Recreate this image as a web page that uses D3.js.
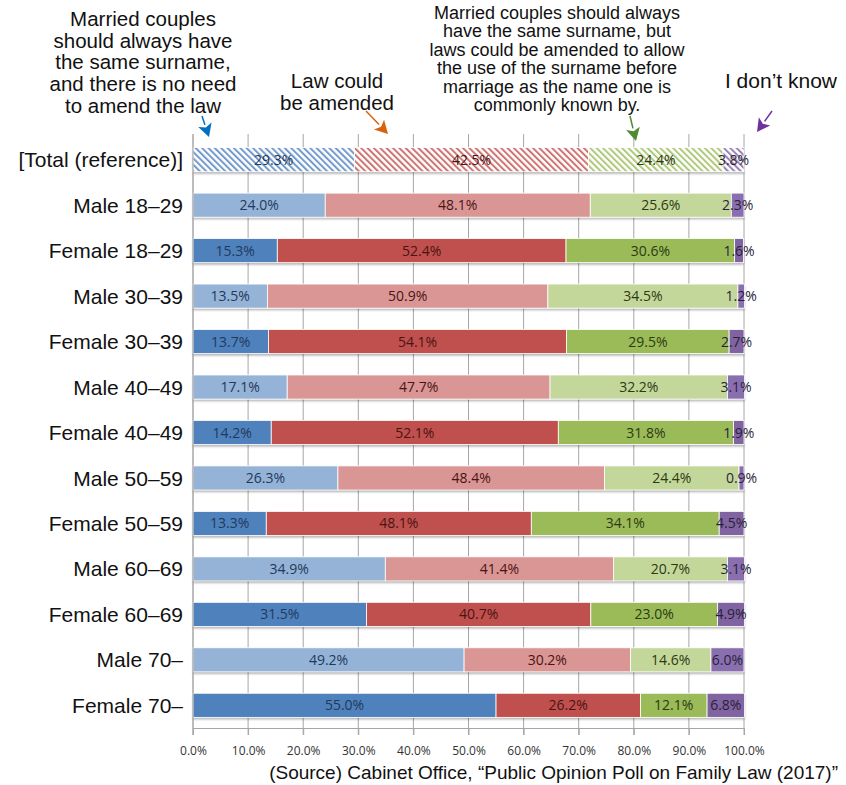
<!DOCTYPE html>
<html>
<head>
<meta charset="utf-8">
<script src="https://cdn.jsdelivr.net/npm/d3@7"></script>
<style>
  body { margin: 0; background: #fff; }
  svg { display: block; }
</style>
</head>
<body>
<script>
// categories (rows) and series values, percent
var groups = ["[Total (reference)]", "Male 18\u201329", "Female 18\u201329", "Male 30\u201339", "Female 30\u201339",
    "Male 40\u201349", "Female 40\u201349", "Male 50\u201359", "Female 50\u201359", "Male 60\u201369",
    "Female 60\u201369", "Male 70\u2013", "Female 70\u2013"];
var noNeed = [29.3, 24.0, 15.3, 13.5, 13.7, 17.1, 14.2, 26.3, 13.3, 34.9, 31.5, 49.2, 55.0];
var amend = [42.5, 48.1, 52.4, 50.9, 54.1, 47.7, 52.1, 48.4, 48.1, 41.4, 40.7, 30.2, 26.2];
var commonName = [24.4, 25.6, 30.6, 34.5, 29.5, 32.2, 31.8, 24.4, 34.1, 20.7, 23.0, 14.6, 12.1];
var dontKnow = [3.8, 2.3, 1.6, 1.2, 2.7, 3.1, 1.9, 0.9, 4.5, 3.1, 4.9, 6.0, 6.8];
var tickValues = [0, 10, 20, 30, 40, 50, 60, 70, 80, 90, 100];

var series = [noNeed, amend, commonName, dontKnow];
// female / male / total shades per series
var darkCol = ["#4f81bd", "#c0504d", "#9bbb59", "#8064a2"];
var lightCol = ["#95b3d7", "#da9694", "#c4d79b", "#8a6fb0"];
var textCol = ["#1f3a5c", "#4a1414", "#2c3a12", "#2a1f3a"];
var arrowCol = ["#0070c0", "#d9620f", "#4f8a2e", "#7030a0"];

var W = 846, H = 785;
var margin = { top: 134, left: 193, right: 102, bottom: 58 };

var svg = d3.select("body").append("svg")
    .attr("width", W)
    .attr("height", H);

var defs = svg.append("defs");
darkCol.forEach(function(c, i) {
    var p = defs.append("pattern")
        .attr("id", "hatch" + i)
        .attr("patternUnits", "userSpaceOnUse")
        .attr("width", 4.5).attr("height", 4.5)
        .attr("patternTransform", "rotate(-45)");
    p.append("rect").attr("width", 4.5).attr("height", 4.5).attr("fill", "#fff");
    p.append("rect").attr("width", 2).attr("height", 4.5).attr("fill", c).attr("opacity", 0.8);
});
var sh = defs.append("filter").attr("id", "shadow")
    .attr("x", "-5%").attr("y", "-20%").attr("width", "110%").attr("height", "160%");
sh.append("feDropShadow").attr("dx", 0).attr("dy", 2).attr("stdDeviation", 1.2)
    .attr("flood-color", "#000").attr("flood-opacity", 0.3);

var g = svg.append("g").attr("transform", "translate(" + margin.left + "," + margin.top + ")");

var x = d3.scaleLinear().domain([0, 100]).range([0, 551]);
var y = d3.scaleBand().domain(groups).range([0, 597]).paddingInner(0.47).paddingOuter(0.3);

// gridlines
g.append("g")
    .selectAll("line")
    .data(tickValues)
    .enter().append("line")
    .attr("x1", function(d) { return x(d); })
    .attr("x2", function(d) { return x(d); })
    .attr("y1", 0)
    .attr("y2", 601)
    .attr("stroke", "#a6a6a6")
    .attr("stroke-width", 1);

// bottom axis
var xAxis = g.append("g")
    .attr("transform", "translate(0,594)")
    .call(d3.axisBottom(x).tickValues(tickValues).tickSize(7).tickSizeOuter(0)
        .tickFormat(function(d) { return d.toFixed(1) + "%"; }));
xAxis.select(".domain").attr("stroke", "#a6a6a6");
xAxis.selectAll(".tick line").attr("stroke", "#a6a6a6");
xAxis.selectAll("text")
    .attr("dy", "1.45em")
    .style("font-family", "Open Sans, sans-serif")
    .style("font-size", "12px")
    .attr("fill", "#333");

// rows
var rows = groups.map(function(name, i) {
    var acc = 0;
    return series.map(function(s, k) {
        var seg = { name: name, row: i, k: k, v: s[i], x0: acc };
        acc += s[i];
        return seg;
    });
});

var rowG = g.selectAll(".row")
    .data(rows)
    .enter().append("g")
    .attr("class", "row");

rowG.append("rect")
    .attr("x", 0)
    .attr("y", function(d) { return y(d[0].name); })
    .attr("width", function(d) { return x(d3.sum(d, function(s) { return s.v; })); })
    .attr("height", y.bandwidth())
    .attr("fill", "#fff")
    .attr("filter", "url(#shadow)");

function segFill(d) {
    if (d.row === 0) return "url(#hatch" + d.k + ")";
    if (d.name.indexOf("Female") === 0) return darkCol[d.k];
    return lightCol[d.k];
}

rowG.selectAll(".seg")
    .data(function(d) { return d; })
    .enter().append("rect")
    .attr("class", "seg")
    .attr("x", function(d) { return x(d.x0); })
    .attr("y", function(d) { return y(d.name); })
    .attr("width", function(d) { return x(d.v); })
    .attr("height", y.bandwidth())
    .attr("fill", segFill)
    .attr("stroke", "#fff")
    .attr("stroke-width", 0.8);

rowG.selectAll(".lab")
    .data(function(d) { return d; })
    .enter().append("text")
    .attr("class", "lab")
    .attr("x", function(d) { return x(d.x0 + d.v / 2); })
    .attr("y", function(d) { return y(d.name) + y.bandwidth() / 2; })
    .attr("dy", "0.36em")
    .attr("text-anchor", "middle")
    .style("font-family", "Open Sans, sans-serif")
    .style("font-size", "14px")
    .attr("fill", function(d) { return textCol[d.k]; })
    .text(function(d) { return d.v.toFixed(1) + "%"; });

// category labels
g.append("line")
    .attr("x1", 0).attr("x2", 0).attr("y1", 0).attr("y2", 601)
    .attr("stroke", "#a6a6a6");

g.selectAll(".cat")
    .data(groups)
    .enter().append("text")
    .attr("class", "cat")
    .attr("x", -10)
    .attr("y", function(d) { return y(d) + y.bandwidth() / 2; })
    .attr("dy", "0.36em")
    .attr("text-anchor", "end")
    .style("font-family", "Liberation Sans, Arial, sans-serif")
    .style("font-size", "21px")
    .attr("fill", "#111")
    .text(function(d) { return d; });

// series headers
var headers = [
    { lines: ["Married couples", "should always have", "the same surname,", "and there is no need", "to amend the law"], cx: 143, y0: 26, lh: 21.7, fs: 20.5 },
    { lines: ["Law could", "be amended"], cx: 337, y0: 88, lh: 21.7, fs: 20.5 },
    { lines: ["Married couples should always", "have the same surname, but", "laws could be amended to allow", "the use of the surname before", "marriage as the name one is", "commonly known by."], cx: 557, y0: 19, lh: 18.4, fs: 18 },
    { lines: ["I don\u2019t know"], cx: 781, y0: 88, lh: 21.7, fs: 21 }
];
headers.forEach(function(h) {
    var t = svg.append("text")
        .attr("text-anchor", "middle")
        .style("font-family", "Liberation Sans, Arial, sans-serif")
        .style("font-size", h.fs + "px")
        .attr("fill", "#111");
    h.lines.forEach(function(l, i) {
        t.append("tspan").attr("x", h.cx).attr("y", h.y0 + i * h.lh).text(l);
    });
});

// arrows pointing at each series in the total row
var arrows = [[202, 116, 209, 137], [366, 111, 388, 134], [630, 116, 636, 141], [772, 111, 757, 132]];
arrows.forEach(function(a, i) {
    var ang = Math.atan2(a[3] - a[1], a[2] - a[0]);
    var len = 13, wid = 7;
    var bx = a[2] - len * Math.cos(ang), by = a[3] - len * Math.sin(ang);
    svg.append("line")
        .attr("x1", a[0]).attr("y1", a[1]).attr("x2", bx).attr("y2", by)
        .attr("stroke", arrowCol[i]).attr("stroke-width", 1.5);
    var px = -Math.sin(ang), py = Math.cos(ang);
    svg.append("path")
        .attr("d", "M" + a[2] + "," + a[3] +
            "L" + (bx + px * wid) + "," + (by + py * wid) +
            "L" + (bx + 3 * Math.cos(ang)) + "," + (by + 3 * Math.sin(ang)) +
            "L" + (bx - px * wid) + "," + (by - py * wid) + "Z")
        .attr("fill", arrowCol[i]);
});

// source note
svg.append("text")
    .attr("x", 838)
    .attr("y", 779)
    .attr("text-anchor", "end")
    .style("font-family", "Liberation Sans, Arial, sans-serif")
    .style("font-size", "19px")
    .attr("fill", "#111")
    .text("(Source) Cabinet Office, \u201cPublic Opinion Poll on Family Law (2017)\u201d");
</script>
</body>
</html>
